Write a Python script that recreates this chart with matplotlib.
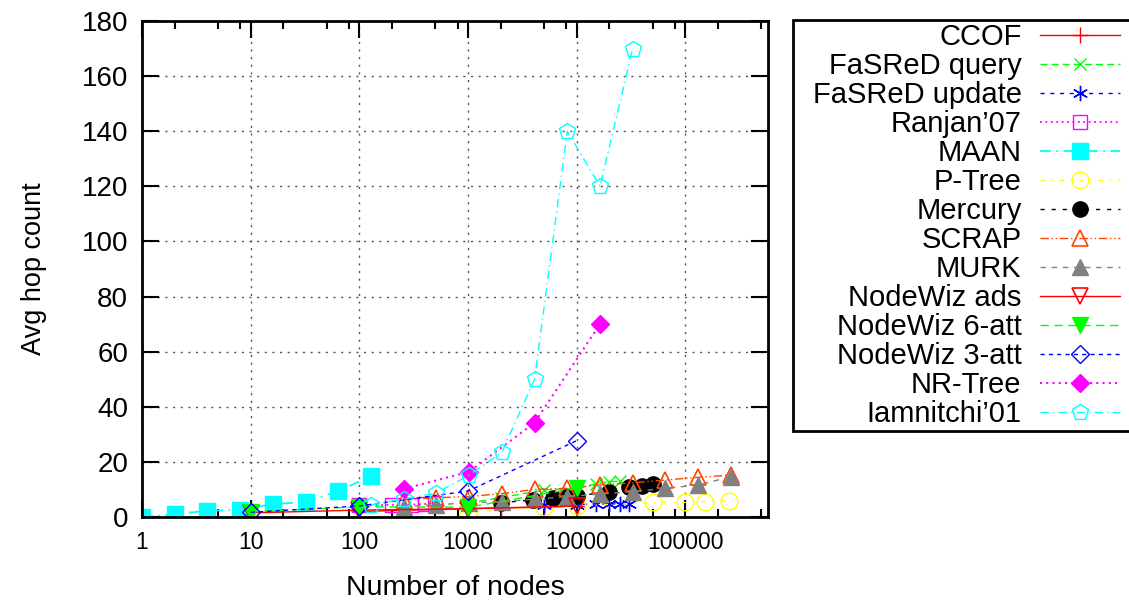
import numpy as np
import matplotlib
matplotlib.use('Agg')
import matplotlib.pyplot as plt
from matplotlib.ticker import FixedLocator, NullFormatter
from matplotlib.offsetbox import DrawingArea

plt.rcParams['font.family'] = ['Liberation Sans', 'DejaVu Sans']

# data (x = number of nodes, y = average hop count)
ccof_x = [100, 1000, 2000, 5000, 10000]
ccof_y = [2, 3, 3.3, 3.5, 4]

fasred_q_x = [1000, 2000, 5000, 10000, 15000, 20000, 25000]
fasred_q_y = [5, 7, 9.8, 10.5, 12, 12.8, 13]

fasred_u_x = [5000, 10000, 15000, 20000, 25000, 30000]
fasred_u_y = [4.4, 4.5, 4.7, 4.7, 4.8, 4.8]

ranjan_x = [100, 200, 300, 400, 500]
ranjan_y = [4.2, 4.4, 4.5, 4.7, 5]

maan_x = [1, 2, 4, 8, 16, 32, 64, 128]
maan_y = [0, 1, 2.3, 2.5, 4.7, 5.4, 9.4, 14.8]

ptree_x = [1000, 5000, 10000, 50000, 100000, 150000, 250000]
ptree_y = [1.5, 3.7, 4, 5.3, 5.3, 5.6, 5.9]

mercury_x = [2000, 4000, 6000, 8000, 10000, 20000, 30000, 40000, 50000]
mercury_y = [5.2, 6.2, 6.8, 7.1, 7.6, 9.2, 10.8, 11.2, 12]

scrap_x = [256, 512, 1024, 2048, 4096, 8192, 16384, 32768, 65536, 131072, 262144]
scrap_y = [6.2, 7, 7.4, 8.5, 10, 10.4, 11.6, 12.4, 13.4, 14.4, 15.2]

murk_x = [256, 512, 1024, 2048, 4096, 8192, 16384, 32768, 65536, 131072, 262144]
murk_y = [3.7, 4.4, 5.2, 5.6, 6.4, 7.4, 8.3, 9.2, 10.4, 11.6, 14.6]

nw_ads_x = [10, 100, 1000, 10000]
nw_ads_y = [1.5, 2.5, 3, 4]

nw_6_x = [10, 100, 1000, 10000]
nw_6_y = [1.9, 3.7, 3.5, 10.5]

nw_3_x = [10, 100, 1000, 10000]
nw_3_y = [1.7, 4, 9.4, 27.7]

nrtree_x = [256, 1024, 4096, 16384]
nrtree_y = [10.2, 16.4, 34.2, 70]

iam_x = [128, 256, 512, 1024, 2048, 4096, 8192, 16384, 32768]
iam_y = [4.4, 6.5, 8.7, 15.2, 23.5, 50, 140, 120, 170]

xticks = [1, 10, 100, 1000, 10000, 100000]
xtick_labels = ['1', '10', '100', '1000', '10000', '100000']
yticks = [0, 20, 40, 60, 80, 100, 120, 140, 160, 180]

fig = plt.figure(figsize=(11.29, 6.05), dpi=100)
ax = fig.add_axes([0.1258, 0.1455, 0.5544, 0.8198])

ms = 9
ax.plot(ccof_x, ccof_y, color='#ff0000', ls='-', lw=1, marker='+', ms=ms + 3, mew=1, label='CCOF')
ax.plot(fasred_q_x, fasred_q_y, color='#00ff00', ls=(0, (5, 3)), lw=1, marker='x', ms=ms, mew=1, label='FaSReD query')
ax.plot(fasred_u_x, fasred_u_y, color='#0000ff', ls=(0, (3, 4)), lw=1, marker=(6, 2, 0), ms=ms + 2, mew=1, label='FaSReD update')
ax.plot(ranjan_x, ranjan_y, color='#ff00ff', ls=(0, (1, 2)), lw=1.3, marker='s', ms=ms + 1, mfc='none', mew=1, label="Ranjan\u201907")
ax.plot(maan_x, maan_y, color='#00ffff', ls=(0, (6, 3, 1, 3)), lw=1.3, marker='s', ms=ms + 2, label='MAAN')
ax.plot(ptree_x, ptree_y, color='#ffff00', ls=(0, (3, 5, 1, 5)), lw=1, marker='o', ms=ms + 3, mfc='none', mew=1, label='P-Tree')
ax.plot(mercury_x, mercury_y, color='#000000', ls=(0, (3, 5)), lw=1, marker='o', ms=ms + 2, label='Mercury')
ax.plot(scrap_x, scrap_y, color='#ff4500', ls=(0, (6, 2, 1, 2, 1, 2)), lw=1, marker='^', ms=ms + 2, mfc='none', mew=1.2, label='SCRAP')
ax.plot(murk_x, murk_y, color='#808080', ls=(0, (4, 4)), lw=1, marker='^', ms=ms + 2, label='MURK')
ax.plot(nw_ads_x, nw_ads_y, color='#ff0000', ls='-', lw=1, marker='v', ms=ms + 2, mfc='none', mew=1.2, label='NodeWiz ads')
ax.plot(nw_6_x, nw_6_y, color='#00ff00', ls=(0, (6, 4)), lw=1, marker='v', ms=ms + 2, label='NodeWiz 6-att')
ax.plot(nw_3_x, nw_3_y, color='#0000ff', ls=(0, (3, 3)), lw=1, marker='D', ms=ms, mfc='none', mew=1, label='NodeWiz 3-att')
ax.plot(nrtree_x, nrtree_y, color='#ff00ff', ls=(0, (1, 2)), lw=1.5, marker='D', ms=ms, label='NR-Tree')
ax.plot(iam_x, iam_y, color='#00ffff', ls=(0, (6, 3, 1, 3)), lw=1, marker='p', ms=ms + 3, mfc='none', mew=1, label="Iamnitchi\u201901")

ax.set_xscale('log')
ax.set_xlim(1, 5.75e5)
ax.set_ylim(0, 180)
ax.xaxis.set_major_locator(FixedLocator(xticks))
ax.set_xticklabels(xtick_labels)
minor = [m * 10 ** e for e in range(0, 6) for m in (2, 5, 8)]
ax.xaxis.set_minor_locator(FixedLocator(minor))
ax.xaxis.set_minor_formatter(NullFormatter())
ax.set_yticks(yticks)

ax.tick_params(axis='both', which='major', direction='in', length=12, width=1.5,
               top=True, right=True, pad=10)
ax.tick_params(axis='x', which='major', labelsize=16.5)
ax.tick_params(axis='y', which='major', labelsize=20)
ax.tick_params(axis='x', which='minor', direction='in', length=6, width=1.5, top=True)
for sp in ax.spines.values():
    sp.set_linewidth(2)

ax.grid(True, which='major', color='#555555', ls=(0, (1.5, 4)), lw=1)

ax.set_xlabel('Number of nodes', fontsize=20.5, labelpad=15)
ax.set_ylabel('Avg hop count', fontsize=19.5, labelpad=25)

leg = ax.legend(loc='upper left', bbox_to_anchor=(793 / 1129, 1 - 20 / 605),
                bbox_transform=fig.transFigure, markerfirst=False, fontsize=21,
                handlelength=2.77, handletextpad=0.62, labelspacing=0.035,
                borderpad=0.1, borderaxespad=0, columnspacing=0,
                fancybox=False, framealpha=1, edgecolor='black')
leg.get_frame().set_linewidth(2)
for col in leg._legend_handle_box.get_children():
    col.align = 'right'
# extra room on the left and right of the legend entries
leg._legend_handle_box.get_children().insert(0, DrawingArea(12, 1))
leg._legend_handle_box.get_children().append(DrawingArea(12, 1))

fig.savefig('out.png', dpi=100)
